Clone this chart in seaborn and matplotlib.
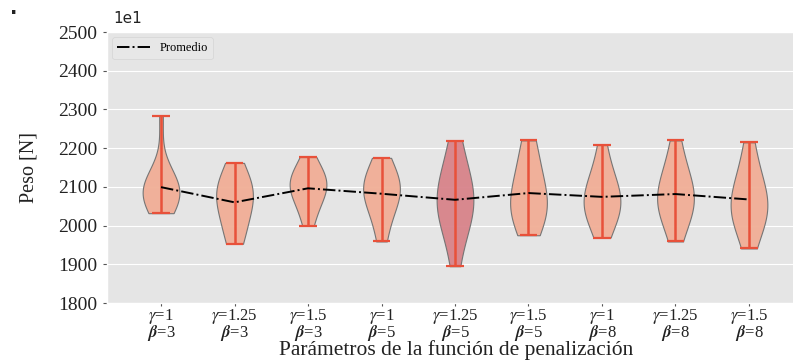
import numpy as np
import pandas as pd
import matplotlib
matplotlib.use("Agg")
import matplotlib.pyplot as plt
import seaborn as sns
from matplotlib.mathtext import MathTextParser

# ---- data (scaled by 1e1) ----
gammas = ["1", "1.25", "1.5", "1", "1.25", "1.5", "1", "1.25", "1.5"]
betas = ["3", "3", "3", "5", "5", "5", "8", "8", "8"]

v1 = [2032, 2045, 2060, 2070, 2080, 2085, 2090, 2095, 2100, 2105, 2115, 2130, 2283]
v2 = [1953, 1970, 1975, 2015, 2040, 2050, 2065, 2080, 2088, 2092, 2100, 2115, 2135, 2162]
v3 = [2000, 2030, 2060, 2080, 2090, 2100, 2108, 2115, 2120, 2130, 2145, 2177]
v4 = [1959, 2000, 2040, 2065, 2080, 2088, 2095, 2100, 2110, 2125, 2150, 2175]
v5 = [1895, 1975, 2010, 2040, 2055, 2062, 2068, 2075, 2090, 2140, 2170, 2219]
v6 = [1975, 2010, 2030, 2040, 2048, 2055, 2065, 2095, 2120, 2160, 2190, 2220]
v7 = [1969, 2010, 2030, 2042, 2050, 2058, 2068, 2080, 2100, 2125, 2150, 2208]
v8 = [1959, 2010, 2035, 2050, 2058, 2065, 2075, 2090, 2110, 2135, 2170, 2220]
v9 = [1941, 1995, 2020, 2032, 2040, 2048, 2058, 2075, 2095, 2125, 2165, 2215]
samples = [v1, v2, v3, v4, v5, v6, v7, v8, v9]

ylabel = "Peso [N]"
xlabel = "Parámetros de la función de penalización"
legend_label = "Promedio"

# ---- style ----
plt.style.use("ggplot")
plt.rcParams["mathtext.fontset"] = "stix"
serif = ["Liberation Serif", "DejaVu Serif"]

beta_cmd = r"\boldsymbol{\beta}"
try:
    MathTextParser("agg").parse(r"$\boldsymbol{\beta}$", 72)
except Exception:
    beta_cmd = r"\mathbf{\beta}"

cats = [f"g{g}b{b}" for g, b in zip(gammas, betas)]
tick_labels = [rf"$\gamma$=" + g + "\n" + rf"${beta_cmd}$=" + b for g, b in zip(gammas, betas)]

rows = []
for c, s in zip(cats, samples):
    for v in s:
        rows.append({"cfg": c, "peso": v})
df = pd.DataFrame(rows)

face = "#F1AE96"
face_hi = "#D8838A"
palette = [face] * 9
palette[4] = face_hi

fig = plt.figure(figsize=(7.93, 3.62), dpi=100)
ax = fig.add_axes([107 / 793, 59 / 362, 696 / 793, 271 / 362])

sns.violinplot(data=df, x="cfg", y="peso", hue="cfg", order=cats, hue_order=cats,
               palette=palette, legend=False, inner=None, cut=0, bw_adjust=1.45,
               density_norm="width", width=0.5, linewidth=0.8,
               linecolor="#707070", saturation=1, ax=ax)
for coll in ax.collections:
    coll.set_alpha(0.95)

pos = np.arange(len(cats))
mins = np.array([min(s) for s in samples])
maxs = np.array([max(s) for s in samples])
means = np.array([np.mean(s) for s in samples])

bar_c = "#E8513A"
ax.vlines(pos, mins, maxs, color=bar_c, lw=1.8, zorder=3)
ax.hlines(mins, pos - 0.12, pos + 0.12, color=bar_c, lw=1.6, zorder=3)
ax.hlines(maxs, pos - 0.12, pos + 0.12, color=bar_c, lw=1.6, zorder=3)

ax.plot(pos, means, color="black", ls="-.", lw=1.4, label=legend_label, zorder=4)

ax.set_xlim(-0.735, 8.735)
ax.set_ylim(1800, 2500)
ax.set_yticks(np.arange(1800, 2501, 100))
ax.set_xticks(pos)
ax.tick_params(axis="x", pad=0.5, length=2.5)
ax.tick_params(axis="y", pad=4, length=3)
ax.set_xticklabels(tick_labels, family=serif, fontsize=12, color="#222222",
                   linespacing=0.78)
for t in ax.get_yticklabels():
    t.set_family(serif)
    t.set_fontsize(14)
    t.set_color("#222222")

ax.set_xlabel(xlabel, family=serif, fontsize=15.5, color="#222222")
ax.xaxis.label.set_va("baseline")
ax.xaxis.set_label_coords(0.501, -(355 - 303) / 271)
ax.set_ylabel(ylabel, family=serif, fontsize=14.5, color="#222222", labelpad=14)

ax.text(6 / 696, 1 + 9 / 271, "1e1", transform=ax.transAxes, family="DejaVu Sans",
        fontsize=11, va="baseline", ha="left", color="#222222")

leg = ax.legend(loc="upper left", prop={"family": serif, "size": 9},
                frameon=True, borderaxespad=0.4, handlelength=2.6)
leg.get_frame().set_facecolor("#E8E8E8")
leg.get_frame().set_edgecolor("#D0D0D0")

fig.text(10 / 793, 1 - 14 / 362, ".", fontsize=14, fontweight="bold", color="#222222")

fig.savefig("out.png", dpi=100)
